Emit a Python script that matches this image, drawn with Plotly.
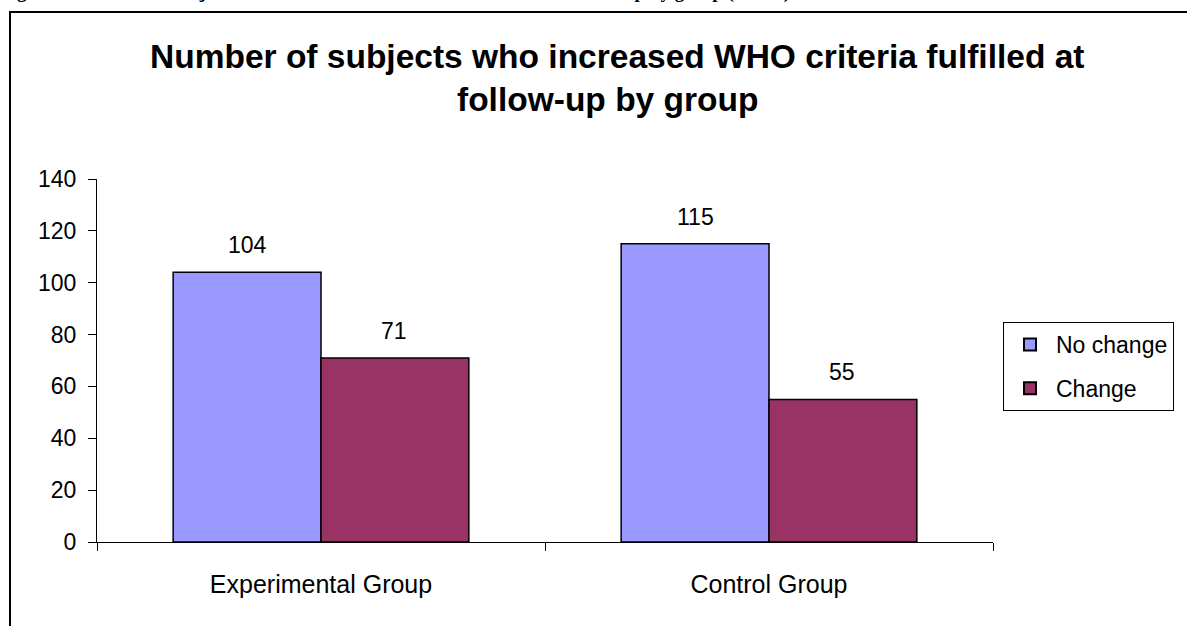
import plotly.graph_objects as go

categories = ["Experimental Group", "Control Group"]
no_change = [104, 115]
change = [71, 55]
series_names = ["No change", "Change"]
title_lines = ["Number of subjects who increased WHO criteria fulfilled at", "follow-up by group"]
caption_text = "Figure 2: Number of subjects who increased WHO criteria fulfilled at follow-up by group (n=345)"

W, H = 1187, 626
L, R, T, B = 97, 993, 179, 542  # plot area pixel bounds
FONT = "Arial, Liberation Sans, sans-serif"


def px_x(px):
    return (px - L) / (R - L)


def px_y(py):
    return (B - py) / (B - T)


fig = go.Figure()
fig.add_trace(go.Bar(x=categories, y=no_change, name=series_names[0], legendgroup="a",
                     marker=dict(color="#9999FF", line=dict(color="black", width=1.5))))
fig.add_trace(go.Bar(x=categories, y=change, name=series_names[1], legendgroup="b",
                     marker=dict(color="#993366", line=dict(color="black", width=1.5))))

# data labels
for vals, shift in ((no_change, -74), (change, 73)):
    for c, v in zip(categories, vals):
        fig.add_annotation(x=c, y=v, text=str(v), showarrow=False, xshift=shift,
                           yshift=27, font=dict(family=FONT, size=23, color="black"))

# title (two lines)
for line, (cx, cy) in zip(title_lines, ((617, 57), (607, 100))):
    fig.add_annotation(xref="paper", yref="paper", x=px_x(cx), y=px_y(cy), text="<b>" + line + "</b>",
                       showarrow=False, xanchor="center", yanchor="middle",
                       font=dict(family=FONT, size=33.5, color="black"))
# cropped caption at top
fig.add_annotation(xref="paper", yref="paper", x=px_x(-2), y=px_y(4.5), text="<b>" + caption_text + "</b>",
                   showarrow=False, xanchor="left", yanchor="bottom",
                   font=dict(family="Liberation Serif, Times New Roman", size=19, color="black"))

# outer chart border
fig.add_shape(type="rect", xref="paper", yref="paper",
              x0=px_x(10), x1=px_x(1300), y0=px_y(12), y1=px_y(800),
              line=dict(color="black", width=2), fillcolor="rgba(0,0,0,0)", layer="below")

fig.update_layout(
    width=W, height=H,
    margin=dict(l=L, r=W - R, t=T, b=H - B, pad=0, autoexpand=False),
    paper_bgcolor="white", plot_bgcolor="white",
    barmode="group", bargap=0.34, bargroupgap=0,
    font=dict(family=FONT, size=23, color="black"),
    legend=dict(x=px_x(1003), y=px_y(322), xanchor="left", yanchor="top",
                bordercolor="black", borderwidth=1, bgcolor="white",
                font=dict(family=FONT, size=23, color="black"), itemsizing="constant",
                tracegroupgap=11, itemwidth=42),
    showlegend=True,
)
fig.update_xaxes(showline=True, linecolor="black", linewidth=1, ticks="outside",
                 tickson="boundaries", ticklen=8, tickcolor="black",
                 tickfont=dict(family=FONT, size=25, color="black"),
                 ticklabelstandoff=20, showgrid=False)
fig.update_yaxes(range=[0, 140], dtick=20, showline=True, linecolor="black", linewidth=1,
                 ticks="outside", ticklen=8, tickcolor="black", showgrid=False,
                 tickfont=dict(family=FONT, size=23, color="black"),
                 zeroline=False, ticklabelstandoff=7)

fig.write_html("out.html")
